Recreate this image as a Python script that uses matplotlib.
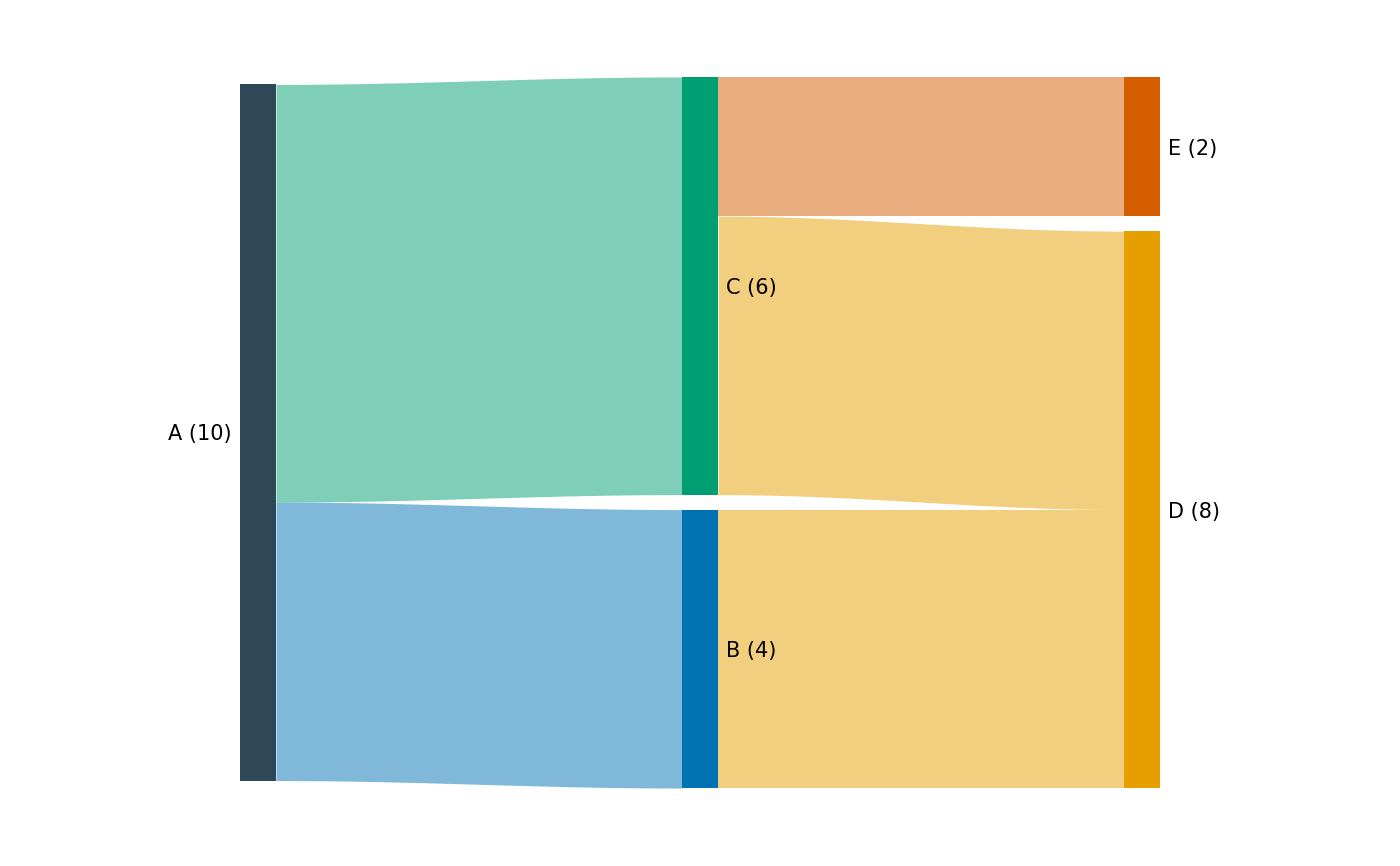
import numpy as np
import matplotlib
matplotlib.use("Agg")
import matplotlib.pyplot as plt

# stages (columns) of the sankey, top to bottom
stage_nodes = [["A"], ["C", "B"], ["E", "D"]]
node_values = {"A": 10, "C": 6, "B": 4, "E": 2, "D": 8}
node_colors = {"A": "#2F4858", "C": "#009E73", "B": "#0072B2",
               "E": "#D55E00", "D": "#E69F00"}

# flows: source, target, value (in order as drawn)
flow_src = ["A", "A", "C", "C", "B"]
flow_tgt = ["C", "B", "E", "D", "D"]
flow_val = [6, 4, 2, 4, 4]

gap = 0.215      # vertical gap between nodes, in value units
node_w = 0.0814  # node width, in column units

# node positions: each column centered on the tallest one
col_tot = [sum(node_values[n] for n in col) + gap * (len(col) - 1) for col in stage_nodes]
height = max(col_tot)
node_pos = {}
for i, col in enumerate(stage_nodes):
    top = height - (height - col_tot[i]) / 2
    for n in col:
        node_pos[n] = (i, top, top - node_values[n])
        top -= node_values[n] + gap

fig = plt.figure(figsize=(14, 8.66), dpi=100)
ax = fig.add_axes([0, 0, 1, 1])
ax.set_xlim(-0.543, 2.624)
ax.set_ylim(-1.12, 11.32)
ax.axis("off")

# flows
out_cursor = {n: node_pos[n][1] for n in node_pos}
in_cursor = {n: node_pos[n][1] for n in node_pos}
t = np.linspace(0, 1, 200)
s = 0.5 - 0.5 * np.cos(np.pi * t)
for src, tgt, v in zip(flow_src, flow_tgt, flow_val):
    x0 = node_pos[src][0] + node_w
    x1 = node_pos[tgt][0]
    y0_top = out_cursor[src]
    y1_top = in_cursor[tgt]
    out_cursor[src] -= v
    in_cursor[tgt] -= v
    xs = x0 + (x1 - x0) * t
    top = y0_top + (y1_top - y0_top) * s
    bot = top - v
    ax.fill_between(xs, bot, top, color=node_colors[tgt], alpha=0.5, lw=0)

# nodes and labels
for n, (i, top, bot) in node_pos.items():
    ax.bar(i, top - bot, bottom=bot, width=node_w, align="edge",
           color=node_colors[n], lw=0)
    label = f"{n} ({node_values[n]})"
    ymid = (top + bot) / 2
    if i == 0:
        ax.text(i - 0.02, ymid, label, ha="right", va="center_baseline", fontsize=15)
    else:
        ax.text(i + node_w + 0.018, ymid, label, ha="left", va="center_baseline", fontsize=15)

fig.savefig("out.png", dpi=100)
